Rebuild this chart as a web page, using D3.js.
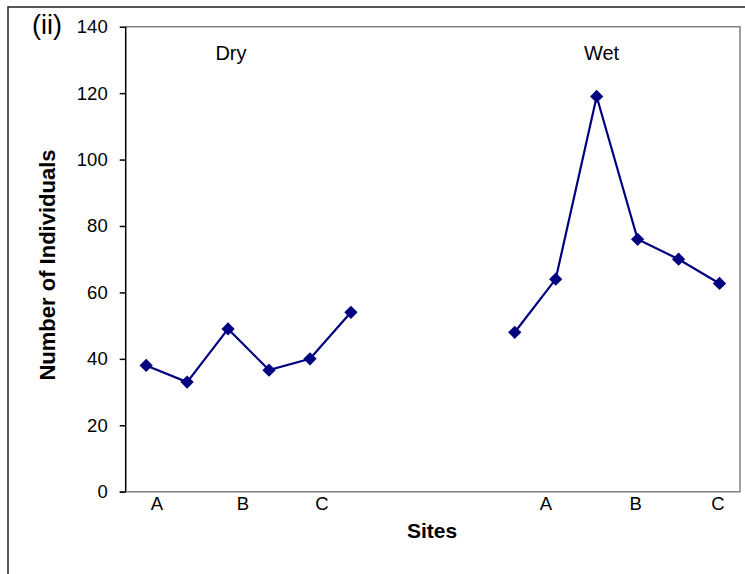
<!DOCTYPE html>
<html>
<head>
<meta charset="utf-8">
<script src="https://cdn.jsdelivr.net/npm/d3@7/dist/d3.min.js"></script>
<style>
  html, body { margin: 0; padding: 0; background: #fff; }
  svg { display: block; font-family: Arial, "Liberation Sans", sans-serif; }
</style>
</head>
<body>
<svg id="chart" width="745" height="574"></svg>
<script>
// ---- data ----
const categories = d3.range(15);              // 15 category slots on the x axis
const dryIndex = [0, 1, 2, 3, 4, 5];
const dryValues = [38, 33, 49, 36.6, 40, 54];
const wetIndex = [9, 10, 11, 12, 13, 14];
const wetValues = [48, 64, 119, 76, 70, 62.7];
const yTicks = [0, 20, 40, 60, 80, 100, 120, 140];
const siteLabels = ["A", "B", "C", "A", "B", "C"];
const siteLabelAt = [0.26, 2.36, 4.29, 9.76, 11.95, 13.96]; // in category units
const groupTitles = ["Dry", "Wet"];
const groupTitleAt = [2.07, 11.12];                         // in category units

// ---- layout ----
const svg = d3.select("#chart");
const plot = { left: 125.7, right: 740, top: 26.7, bottom: 491.7 };
const navy = "#000080";

const x = d3.scaleLinear().domain([-0.5, categories.length - 0.5]).range([plot.left, plot.right]);
const y = d3.scaleLinear().domain([0, 140]).range([plot.bottom, plot.top]);

// outer frame
svg.append("path")
  .attr("d", `M8,574 L8,7 L745,7`)
  .attr("fill", "none").attr("stroke", "#222").attr("stroke-width", 1.5);

// plot area border (gray)
svg.append("path")
  .attr("d", `M${plot.left},${plot.top} L${plot.right},${plot.top} L${plot.right},${plot.bottom} L${plot.left - 6},${plot.bottom}`)
  .attr("fill", "none").attr("stroke", "#808080").attr("stroke-width", 1.5);

// y axis
const yAxis = svg.append("g")
  .attr("transform", `translate(${plot.left},0)`)
  .call(d3.axisLeft(y).tickValues(yTicks).tickSize(6).tickPadding(12).tickFormat(d3.format("d")));
yAxis.select(".domain").attr("stroke", "#000").attr("stroke-width", 1.5).attr("d", `M0,${plot.top}V${plot.bottom}`);
yAxis.selectAll(".tick line").attr("stroke", "#000").attr("stroke-width", 1.5);
yAxis.selectAll(".tick text")
  .attr("font-size", "18.5px").attr("fill", "#000")
  .attr("font-family", "Arial, 'Liberation Sans', sans-serif");

// x site labels
svg.append("g").selectAll("text")
  .data(siteLabels)
  .join("text")
  .attr("x", (d, i) => x(siteLabelAt[i]))
  .attr("y", 510)
  .attr("text-anchor", "middle")
  .attr("font-size", "18.5px")
  .text(d => d);

// group titles
svg.append("g").selectAll("text")
  .data(groupTitles)
  .join("text")
  .attr("x", (d, i) => x(groupTitleAt[i]))
  .attr("y", 59.5)
  .attr("text-anchor", "middle")
  .attr("font-size", "20px")
  .text(d => d);

// panel label
svg.append("text")
  .attr("x", 47).attr("y", 34)
  .attr("text-anchor", "middle")
  .attr("font-size", "27px")
  .text("(ii)");

// axis titles
svg.append("text")
  .attr("x", 432).attr("y", 538)
  .attr("text-anchor", "middle")
  .attr("font-size", "21px").attr("font-weight", "bold")
  .text("Sites");

svg.append("text")
  .attr("transform", `translate(55,265) rotate(-90)`)
  .attr("text-anchor", "middle")
  .attr("font-size", "22px").attr("font-weight", "bold")
  .text("Number of Individuals");

// series
const line = d3.line().x(d => x(d[0])).y(d => y(d[1]));
const diamond = d3.symbol().type(d3.symbolSquare).size(88);

[[dryIndex, dryValues], [wetIndex, wetValues]].forEach(([idx, vals]) => {
  const pts = idx.map((c, i) => [c, vals[i]]);
  svg.append("path")
    .datum(pts)
    .attr("d", line)
    .attr("fill", "none")
    .attr("stroke", navy)
    .attr("stroke-width", 2.2);
  svg.append("g").selectAll("path")
    .data(pts)
    .join("path")
    .attr("d", diamond)
    .attr("transform", d => `translate(${x(d[0])},${y(d[1])}) rotate(45)`)
    .attr("fill", navy);
});
</script>
</body>
</html>
